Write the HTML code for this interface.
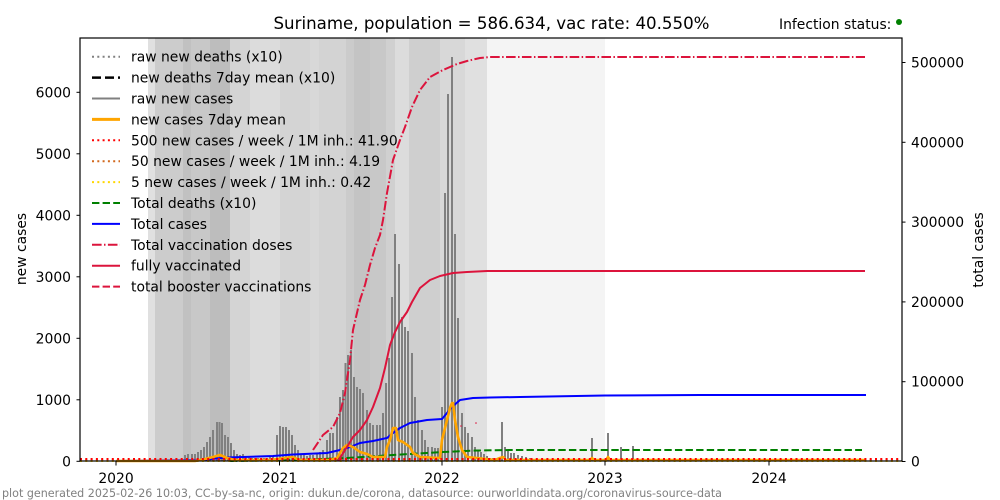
<!DOCTYPE html>
<html><head><meta charset="utf-8"><style>
html,body{margin:0;padding:0;background:#fff;}
svg{display:block;font-family:"DejaVu Sans","Liberation Sans",sans-serif;}
</style></head><body>
<svg width="1000" height="500" viewBox="0 0 1000 500" xmlns="http://www.w3.org/2000/svg">
<rect x="0" y="0" width="1000" height="500" fill="#fff"/>
<!-- background bands -->
<g shape-rendering="crispEdges">
<rect x="148" y="38" width="7" height="423" fill="#e0e0e0"/>
<rect x="155" y="38" width="28" height="423" fill="#cccccc"/>
<rect x="183" y="38" width="8" height="423" fill="#c1c1c1"/>
<rect x="191" y="38" width="19" height="423" fill="#c8c8c8"/>
<rect x="210" y="38" width="20" height="423" fill="#bdbdbd"/>
<rect x="230" y="38" width="20" height="423" fill="#d4d4d4"/>
<rect x="250" y="38" width="30" height="423" fill="#dcdcdc"/>
<rect x="280" y="38" width="30" height="423" fill="#d4d4d4"/>
<rect x="310" y="38" width="9" height="423" fill="#d8d8d8"/>
<rect x="319" y="38" width="27" height="423" fill="#d3d3d3"/>
<rect x="346" y="38" width="8" height="423" fill="#cbcbcb"/>
<rect x="354" y="38" width="16" height="423" fill="#c4c4c4"/>
<rect x="370" y="38" width="16" height="423" fill="#c8c8c8"/>
<rect x="386" y="38" width="9" height="423" fill="#d0d0d0"/>
<rect x="395" y="38" width="14" height="423" fill="#dcdcdc"/>
<rect x="409" y="38" width="31" height="423" fill="#cfcfcf"/>
<rect x="440" y="38" width="25" height="423" fill="#d8d8d8"/>
<rect x="465" y="38" width="22" height="423" fill="#e0e0e0"/>
<rect x="487" y="38" width="118" height="423" fill="#f4f4f4"/>
</g>
<!-- raw new cases bars -->
<path fill="none" stroke="#808080" stroke-width="2" d="M185 461V455M188 461V454M192 461V454M195 461V454M198 461V452M201 461V450M204 461V447M207 461V442M210 461V437M213 461V430M217 461V422M219.5 461V422M222 461V423M225 461V435M228 461V437M231 461V443M234 461V450M237 461V454M240 461V455M243 461V454M246 461V456M249 461V457M252 461V458M255 461V458M258 461V458M261 461V458M264 461V458M267 461V458M270 461V457M273 461V456M277 461V435M280 461V426M283 461V427M286 461V427M289 461V430M292 461V435M295 461V445M298 461V450M301 461V454M304 461V455M307 461V456M310 461V455M313 461V455M317 461V453M320 461V452M323 461V450M327 461V440M330 461V433M333 461V433M337 461V417M340 461V397M343 461V390M345.5 461V363M348 461V355M351 461V350M354 461V377M357 461V387M360 461V389M363 461V393M367 461V410M370 461V423M373 461V425M377 461V425M380 461V425M383 461V413M386 461V383M389 461V358M392 461V297M395 461V234M399 461V264M402 461V317M405 461V327M408 461V331M412 461V353M415 461V397M418 461V420M422 461V430M425 461V440M428 461V447M432 461V447M435 461V448M438 461V448M442 461V407M445 461V193M448 461V94M452 461V57M455 461V234M458 461V318M462 461V413M465 461V427M468 461V433M472 461V437M475 461V447M478 461V450M481 461V452M484 461V454M487 461V456M490 461V458M493 461V458M502 461V422M505 461V447M508 461V450M511 461V453M514 461V453M518 461V455M522 461V456M526 461V457M530 461V458M592 461V438M608 461V433M621 461V447M633 461V446"/>
<!-- total deaths x10 -->
<polyline fill="none" stroke="#008000" stroke-width="2" stroke-dasharray="7.4,3.2" points="230,461 300,460 347,458 393,455 443,452 477,450.5 510,450 862,450"/>
<!-- total cases -->
<polyline fill="none" stroke="#0000ff" stroke-width="2" stroke-linejoin="round" points="116,461 200,460 227,457.5 273,456 293,454.5 327,453 340,450 350,447 360,443 373,441 387,438 393,433 400,428 410,423 427,420 442,419 447,413 452,407 460,400 473,398 490,397.5 520,397 605,395.5 700,395 866,395"/>
<!-- threshold dotted lines -->
<line x1="80" y1="461" x2="902" y2="461" stroke="#ffd700" stroke-width="2" stroke-dasharray="2,3.3"/>
<line x1="80" y1="460.5" x2="902" y2="460.5" stroke="#d2691e" stroke-width="2" stroke-dasharray="2,3.3"/>
<!-- new cases 7day mean -->
<polyline fill="none" stroke="#ffa500" stroke-width="2.6" stroke-linejoin="round" points="116,461 195,461 205,459 213,457 220,455 227,458 235,460 270,460 285,458 292,457 300,460 330,460 337,458 343,448 347,445 353,447 360,452 367,454 373,457 385,457 387,447 390,440 393,428 396,428 398,440 403,442 410,447 413,453 420,457 440,458 442,440 447,420 450,408 452,403 453,403 455,420 458,437 462,450 467,457 477,458 495,460 500,458 503,457 506,460 590,460 592,458 594,460 606,460 608,457 610,460 865,460"/>
<line x1="80" y1="459" x2="902" y2="459" stroke="#ff0000" stroke-width="2" stroke-dasharray="2,3.3"/>
<!-- total vaccination doses -->
<polyline fill="none" stroke="#dc143c" stroke-width="2" stroke-dasharray="9.6,2.4,1.5,2.4" stroke-linejoin="round" points="313,450 323,435 333,427 340,413 345,393 350,360 353,330 360,300 365,285 370,265 375,248 380,235 383,220 387,193 393,160 400,140 405,127 412,107 420,90 430,77 443,70 457,64 467,61 480,58 490,57 865,57"/>
<!-- fully vaccinated -->
<polyline fill="none" stroke="#dc143c" stroke-width="2" stroke-linejoin="round" points="338,461 347,447 353,437 360,430 367,420 373,407 380,388 385,368 390,345 395,332 400,322 407,312 412,302 420,288 430,280 440,276 453,273 467,272 487,271 865,271"/>
<circle cx="461" cy="426" r="0.8" fill="#dc143c"/>
<circle cx="476" cy="423" r="0.8" fill="#dc143c"/>
<!-- frame -->
<rect x="80" y="38" width="822" height="423" fill="none" stroke="#000" stroke-width="1.2"/>
<!-- left ticks -->
<g stroke="#000" stroke-width="1">
<line x1="76.5" y1="461.3" x2="80" y2="461.3"/>
<line x1="76.5" y1="399.8" x2="80" y2="399.8"/>
<line x1="76.5" y1="338.3" x2="80" y2="338.3"/>
<line x1="76.5" y1="276.8" x2="80" y2="276.8"/>
<line x1="76.5" y1="215.3" x2="80" y2="215.3"/>
<line x1="76.5" y1="153.8" x2="80" y2="153.8"/>
<line x1="76.5" y1="92.3" x2="80" y2="92.3"/>
<line x1="902" y1="461.5" x2="905.5" y2="461.5"/>
<line x1="902" y1="381.7" x2="905.5" y2="381.7"/>
<line x1="902" y1="301.9" x2="905.5" y2="301.9"/>
<line x1="902" y1="222.1" x2="905.5" y2="222.1"/>
<line x1="902" y1="142.3" x2="905.5" y2="142.3"/>
<line x1="902" y1="62.5" x2="905.5" y2="62.5"/>
<line x1="116" y1="461" x2="116" y2="465.5"/>
<line x1="279.5" y1="461" x2="279.5" y2="465.5"/>
<line x1="442" y1="461" x2="442" y2="465.5"/>
<line x1="605" y1="461" x2="605" y2="465.5"/>
<line x1="769" y1="461" x2="769" y2="465.5"/>
</g>
<g font-size="13.9" fill="#000">
<g text-anchor="end">
<text x="71" y="466.3">0</text>
<text x="71" y="404.8">1000</text>
<text x="71" y="343.3">2000</text>
<text x="71" y="281.8">3000</text>
<text x="71" y="220.3">4000</text>
<text x="71" y="158.8">5000</text>
<text x="71" y="97.3">6000</text>
</g>
<g text-anchor="start">
<text x="911" y="466.5">0</text>
<text x="911" y="386.7">100000</text>
<text x="911" y="306.9">200000</text>
<text x="911" y="227.1">300000</text>
<text x="911" y="147.3">400000</text>
<text x="911" y="67.5">500000</text>
</g>
<g text-anchor="middle">
<text x="116" y="483">2020</text>
<text x="279.5" y="483">2021</text>
<text x="442" y="483">2022</text>
<text x="605" y="483">2023</text>
<text x="769" y="483">2024</text>
</g>
<text transform="translate(26,249) rotate(-90)" text-anchor="middle">new cases</text>
<text transform="translate(983,250) rotate(-90)" text-anchor="middle">total cases</text>
</g>
<!-- title -->
<text x="491.5" y="29" font-size="16.7" text-anchor="middle" fill="#000" textLength="436" lengthAdjust="spacingAndGlyphs">Suriname, population = 586.634, vac rate: 40.550%</text>
<text x="779" y="29" font-size="13.9" fill="#000">Infection status:</text>
<circle cx="899" cy="22" r="3" fill="#008000"/>
<!-- footer -->
<text x="2" y="497" font-size="11.1" fill="#808080" textLength="720" lengthAdjust="spacingAndGlyphs">plot generated 2025-02-26 10:03, CC-by-sa-nc, origin: dukun.de/corona, datasource: ourworldindata.org/coronavirus-source-data</text>
<!-- legend -->
<g fill="none">
<line x1="92" y1="56.7" x2="120" y2="56.7" stroke="#808080" stroke-width="2" stroke-dasharray="2,3.3"/>
<line x1="92" y1="77.6" x2="120" y2="77.6" stroke="#000" stroke-width="2.5" stroke-dasharray="9,4"/>
<line x1="92" y1="98.5" x2="120" y2="98.5" stroke="#808080" stroke-width="2"/>
<line x1="92" y1="119.4" x2="120" y2="119.4" stroke="#ffa500" stroke-width="3"/>
<line x1="92" y1="140.3" x2="120" y2="140.3" stroke="#ff0000" stroke-width="2" stroke-dasharray="2,3.3"/>
<line x1="92" y1="161.2" x2="120" y2="161.2" stroke="#d2691e" stroke-width="2" stroke-dasharray="2,3.3"/>
<line x1="92" y1="182.1" x2="120" y2="182.1" stroke="#ffd700" stroke-width="2" stroke-dasharray="2,3.3"/>
<line x1="92" y1="203" x2="120" y2="203" stroke="#008000" stroke-width="2" stroke-dasharray="7.4,3.2"/>
<line x1="92" y1="223.9" x2="120" y2="223.9" stroke="#0000ff" stroke-width="2"/>
<line x1="92" y1="244.8" x2="120" y2="244.8" stroke="#dc143c" stroke-width="2" stroke-dasharray="9.6,2.4,1.5,2.4"/>
<line x1="92" y1="265.7" x2="120" y2="265.7" stroke="#dc143c" stroke-width="2"/>
<line x1="92" y1="286.6" x2="120" y2="286.6" stroke="#dc143c" stroke-width="2" stroke-dasharray="7.4,3.2"/>
</g>
<g font-size="13.9" fill="#000">
<text x="131" y="61.7">raw new deaths (x10)</text>
<text x="131" y="82.6">new deaths 7day mean (x10)</text>
<text x="131" y="103.5">raw new cases</text>
<text x="131" y="124.4">new cases 7day mean</text>
<text x="131" y="145.3">500 new cases / week / 1M inh.: 41.90</text>
<text x="131" y="166.2">50 new cases / week / 1M inh.: 4.19</text>
<text x="131" y="187.1">5 new cases / week / 1M inh.: 0.42</text>
<text x="131" y="208">Total deaths (x10)</text>
<text x="131" y="228.9">Total cases</text>
<text x="131" y="249.8">Total vaccination doses</text>
<text x="131" y="270.7">fully vaccinated</text>
<text x="131" y="291.6">total booster vaccinations</text>
</g>
</svg>
</body></html>
